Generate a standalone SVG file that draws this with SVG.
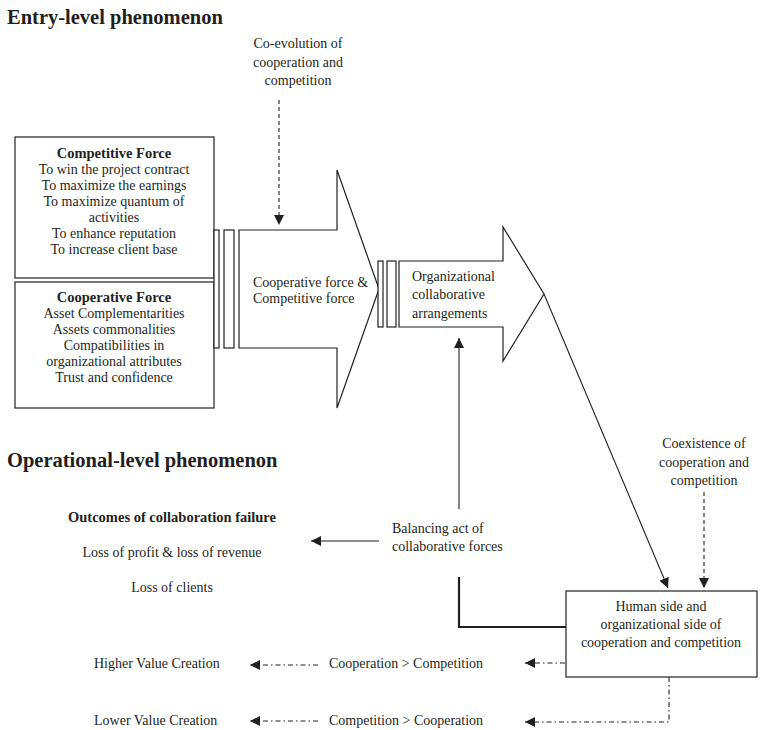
<svg xmlns="http://www.w3.org/2000/svg" width="760" height="730" viewBox="0 0 760 730">
<defs>
<style>
text{font-family:"Liberation Serif","DejaVu Serif",serif;fill:#231f20;font-size:14px}
.b{font-weight:bold;font-size:14.5px}
.h{font-size:20.5px;font-weight:bold}
.c{text-anchor:middle}
.box{fill:#fff;stroke:#231f20;stroke-width:1.2}
.ln{fill:none;stroke:#231f20;stroke-width:1.1}
.dash{fill:none;stroke:#231f20;stroke-width:1.1;stroke-dasharray:4 3}
.dd{fill:none;stroke:#231f20;stroke-width:1.1;stroke-dasharray:5 3 1.5 3}
.thick{fill:none;stroke:#231f20;stroke-width:2.2}
</style>
<marker id="ah" viewBox="0 0 10 10" refX="10" refY="5" markerWidth="10" markerHeight="10" markerUnits="userSpaceOnUse" orient="auto">
<path d="M0,0 L10,5 L0,10 Z" fill="#231f20"/>
</marker>
</defs>
<rect width="760" height="730" fill="#fff"/>

<text class="h" x="7" y="24">Entry-level phenomenon</text>
<text class="h" x="7" y="467">Operational-level phenomenon</text>

<g id="coevolution">
<text class="c" x="298" y="48">Co-evolution of</text>
<text class="c" x="298" y="67">cooperation and</text>
<text class="c" x="298" y="85">competition</text>
</g>

<g id="competitive">
<rect class="box" x="15" y="137" width="199" height="141"/>
<text class="c b" x="114" y="158">Competitive Force</text>
<text class="c" x="114" y="174">To win the project contract</text>
<text class="c" x="114" y="190">To maximize the earnings</text>
<text class="c" x="114" y="206">To maximize quantum of</text>
<text class="c" x="114" y="222">activities</text>
<text class="c" x="114" y="238">To enhance reputation</text>
<text class="c" x="114" y="254">To increase client base</text>
</g>

<g id="cooperative">
<rect class="box" x="15" y="282" width="199" height="126"/>
<text class="c b" x="114" y="302">Cooperative Force</text>
<text class="c" x="114" y="318">Asset Complementarities</text>
<text class="c" x="114" y="334">Assets commonalities</text>
<text class="c" x="114" y="350">Compatibilities in</text>
<text class="c" x="114" y="366">organizational attributes</text>
<text class="c" x="114" y="382">Trust and confidence</text>
</g>

<g id="forces-arrow">
<rect class="box" x="214" y="230" width="5" height="118"/>
<rect class="box" x="224" y="230" width="10" height="118"/>
<path class="box" d="M239,230 L337,230 L337,170 L379,289 L337,408 L337,348 L239,348 Z"/>
<text x="253" y="287">Cooperative force &amp;</text>
<text x="253" y="303">Competitive force</text>
</g>

<g id="arrangements-arrow">
<rect class="box" x="378" y="261" width="5" height="66"/>
<rect class="box" x="387" y="261" width="9" height="66"/>
<path class="box" d="M399,261 L503,261 L503,227 L544,294 L503,361 L503,327 L399,327 Z"/>
<text x="412" y="281">Organizational</text>
<text x="412" y="299">collaborative</text>
<text x="412" y="318">arrangements</text>
</g>

<g id="coexistence">
<text class="c" x="704" y="448">Coexistence of</text>
<text class="c" x="704" y="467">cooperation and</text>
<text class="c" x="704" y="485">competition</text>
</g>

<g id="balancing">
<text x="392" y="533">Balancing act of</text>
<text x="392" y="551">collaborative forces</text>
</g>

<g id="outcomes">
<text class="c b" x="172" y="522">Outcomes of collaboration failure</text>
<text class="c" x="172" y="557">Loss of profit &amp; loss of revenue</text>
<text class="c" x="172" y="592">Loss of clients</text>
</g>

<g id="human">
<rect class="box" x="566" y="591" width="191" height="86"/>
<text class="c" x="661" y="611">Human side and</text>
<text class="c" x="661" y="629">organizational side of</text>
<text class="c" x="661" y="647">cooperation and competition</text>
</g>

<g id="results">
<text x="329" y="668">Cooperation &gt; Competition</text>
<text x="329" y="725">Competition &gt; Cooperation</text>
<text x="94" y="668">Higher Value Creation</text>
<text x="94" y="725">Lower Value Creation</text>
</g>

<g id="connectors">
<path class="dash" d="M279,100 L279,225" marker-end="url(#ah)"/>
<path class="ln" d="M544,294 L668,588" marker-end="url(#ah)"/>
<path class="dash" d="M704,492 L704,588" marker-end="url(#ah)"/>
<path class="ln" d="M459,509 L459,338" marker-end="url(#ah)"/>
<path class="ln" d="M379,541 L311,541" marker-end="url(#ah)"/>
<path class="thick" d="M459,577 L459,627 L566,627"/>
<path class="dd" d="M565,663 L525,663" marker-end="url(#ah)"/>
<path class="dd" d="M669,677 L669,722 L525,722" marker-end="url(#ah)"/>
<path class="dd" d="M318,665 L250,665" marker-end="url(#ah)"/>
<path class="dd" d="M318,721 L250,721" marker-end="url(#ah)"/>
</g>
</svg>
